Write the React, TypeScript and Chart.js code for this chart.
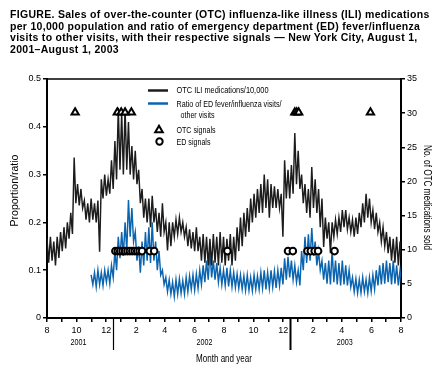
import React, { useEffect, useRef } from 'react';
import { Chart, registerables } from 'chart.js';

Chart.register(...registerables);

// x values are days since August 1, 2001
const monthStartDays = [0, 31, 61, 92, 122, 153, 184, 212, 243, 273, 304, 334, 365, 396, 426, 457, 487, 518, 549, 577, 608, 638, 669, 699, 730];
const monthTickLabels = ['8', '', '10', '', '12', '', '2', '', '4', '', '6', '', '8', '', '10', '', '12', '', '2', '', '4', '', '6', '', '8'];
const yearLabels = ['2001', '2002', '2003'];
const yearLabelDays = [65, 325, 614];
const yearBreakDays = [136, 502];

// OTC ILI medications/10,000 — weekly high and low of the daily series (right axis)
const otcHigh = [
  11.6, 11.9, 11.2, 11.9, 12.6, 13.3, 14.0, 15.4, 23.5, 19.6,
  18.9, 17.2, 16.8, 17.5, 16.8, 17.2, 20.3, 21.0, 20.3, 23.1,
  25.9, 30.8, 30.1, 30.8, 28.7, 25.2, 24.5, 21.7, 18.9, 17.5,
  17.5, 17.9, 16.1, 15.4, 16.8, 14.0, 14.0, 14.0, 14.4, 14.7,
  14.0, 13.3, 13.0, 12.6, 13.3, 11.9, 12.3, 11.9, 11.6, 12.3,
  11.9, 12.6, 11.9, 11.6, 12.3, 11.9, 13.3, 14.7, 15.4, 16.1,
  17.5, 18.2, 18.9, 19.6, 21.0, 20.3, 19.6, 19.3, 18.9, 18.2,
  23.1, 21.7, 22.4, 27.1, 24.5, 21.0, 19.6, 18.9, 22.1, 20.3,
  18.9, 17.5, 14.7, 14.0, 14.0, 14.4, 14.7, 15.8, 15.8, 14.7,
  14.4, 14.7, 15.4, 16.8, 18.2, 17.5, 15.8, 15.4, 14.0, 13.3,
  12.6, 11.9, 11.6, 11.9, 11.2,
];
const otcLow = [
  8.1, 8.4, 7.7, 8.8, 9.8, 10.2, 11.6, 12.3, 16.8, 16.5,
  16.1, 14.4, 14.0, 14.4, 14.0, 9.7, 17.5, 17.9, 18.2, 18.9,
  20.3, 21.7, 21.0, 21.7, 21.0, 20.3, 19.6, 16.8, 14.7, 14.0,
  13.3, 14.0, 12.6, 11.9, 12.6, 9.9, 10.5, 11.9, 12.3, 12.6,
  11.9, 10.5, 10.2, 9.8, 9.8, 8.4, 8.1, 7.7, 7.7, 8.1,
  7.7, 8.1, 7.7, 8.4, 7.7, 8.4, 9.8, 10.5, 11.9, 12.6,
  14.0, 14.7, 15.4, 15.4, 16.1, 14.7, 16.1, 16.1, 16.1, 11.9,
  17.5, 17.5, 18.2, 19.6, 18.9, 16.8, 15.4, 14.7, 16.1, 15.4,
  13.3, 10.4, 11.6, 9.5, 11.9, 12.3, 12.6, 13.3, 13.0, 12.6,
  11.9, 12.3, 13.3, 14.0, 14.7, 14.0, 13.0, 12.6, 11.2, 10.5,
  9.5, 8.4, 8.1, 7.7, 8.4,
];

// Ratio of ED fever/influenza visits to other visits — weekly high and low (left axis), from week 13
const edStartWeek = 13;
const edHigh = [
  0.09, 0.095, 0.1, 0.095, 0.1, 0.1, 0.11, 0.14, 0.17, 0.18,
  0.2, 0.247, 0.23, 0.18, 0.15, 0.16, 0.18, 0.19, 0.2, 0.16,
  0.14, 0.1, 0.085, 0.08, 0.075, 0.08, 0.082, 0.078, 0.085, 0.088,
  0.09, 0.092, 0.1, 0.11, 0.12, 0.14, 0.12, 0.115, 0.105, 0.1,
  0.105, 0.1, 0.095, 0.092, 0.09, 0.088, 0.09, 0.085, 0.09, 0.088,
  0.095, 0.1, 0.095, 0.1, 0.098, 0.1, 0.105, 0.125, 0.128, 0.12,
  0.11, 0.1, 0.14, 0.17, 0.175, 0.188, 0.16, 0.14, 0.12, 0.115,
  0.12, 0.142, 0.12, 0.115, 0.12, 0.11, 0.1, 0.085, 0.082, 0.08,
  0.085, 0.08, 0.085, 0.09, 0.1, 0.11, 0.115, 0.12, 0.115, 0.12,
  0.11, 0.1,
];
const edLow = [
  0.07, 0.065, 0.07, 0.068, 0.075, 0.072, 0.085, 0.1, 0.125, 0.13,
  0.14, 0.17, 0.16, 0.12, 0.095, 0.11, 0.12, 0.115, 0.12, 0.1,
  0.09, 0.07, 0.055, 0.05, 0.045, 0.05, 0.052, 0.05, 0.055, 0.06,
  0.058, 0.062, 0.07, 0.075, 0.08, 0.085, 0.08, 0.075, 0.07, 0.068,
  0.066, 0.065, 0.064, 0.062, 0.06, 0.058, 0.058, 0.057, 0.06, 0.06,
  0.062, 0.06, 0.062, 0.065, 0.063, 0.068, 0.07, 0.08, 0.085, 0.08,
  0.075, 0.068, 0.1, 0.115, 0.12, 0.13, 0.11, 0.1, 0.08, 0.072,
  0.07, 0.075, 0.07, 0.068, 0.07, 0.068, 0.065, 0.055, 0.052, 0.053,
  0.055, 0.052, 0.056, 0.06, 0.068, 0.07, 0.072, 0.075, 0.07, 0.072,
  0.068, 0.07,
];

const otcSignalDays = [58, 145, 153, 161, 174, 511, 515, 519, 667];
const edSignalDays = [141, 146, 151, 156, 161, 166, 171, 176, 181, 186, 191, 196, 212, 221, 372, 497, 507, 537, 544, 552, 559, 593];
const otcSignalLevel = 0.43;
const edSignalLevel = 0.14;

const legendLabels = ['OTC ILI medications/10,000', 'Ratio of ED fever/influenza visits/', 'other visits', 'OTC signals', 'ED signals'];

const BLACK = '#1c1c1c';
const BLUE = '#0b64b0';
const FONT = "'Liberation Sans', Arial, sans-serif";

function weekly(high: number[], low: number[], startWeek: number) {
  const pts: { x: number; y: number }[] = [];
  for (let i = 0; i < high.length; i++) {
    const d = (startWeek + i) * 7;
    pts.push({ x: d, y: high[i] });
    pts.push({ x: d + 3.5, y: low[i] });
  }
  return pts;
}

function text(ctx: CanvasRenderingContext2D, s: string, x: number, y: number, size: number, maxW: number, align: CanvasTextAlign = 'left') {
  ctx.font = `${size}px ${FONT}`;
  ctx.textAlign = align;
  ctx.textBaseline = 'middle';
  ctx.fillStyle = '#000';
  ctx.fillText(s, x, y, maxW);
}

const decorPlugin = {
  id: 'decor',
  afterDraw(chart: any) {
    const ctx: CanvasRenderingContext2D = chart.ctx;
    const a = chart.chartArea;
    const xs = chart.scales.x;
    ctx.save();
    // top frame line
    ctx.strokeStyle = '#000';
    ctx.lineWidth = 1.5;
    ctx.beginPath();
    ctx.moveTo(a.left - 1, a.top);
    ctx.lineTo(a.right + 1, a.top);
    ctx.stroke();
    // year separators
    yearBreakDays.forEach((d, i) => {
      const px = Math.round(xs.getPixelForValue(d)) + 0.5;
      ctx.lineWidth = i === 0 ? 1.2 : 2;
      ctx.beginPath();
      ctx.moveTo(px, a.bottom);
      ctx.lineTo(px, a.bottom + 32);
      ctx.stroke();
    });
    // year labels
    yearLabels.forEach((s, i) => {
      text(ctx, s, xs.getPixelForValue(yearLabelDays[i]), a.bottom + 25, 8.5, 16, 'center');
    });
    text(ctx, 'Month and year', (a.left + a.right) / 2, a.bottom + 41, 10, 56, 'center');
    // axis titles
    ctx.save();
    ctx.translate(15, 190.5);
    ctx.rotate(-Math.PI / 2);
    text(ctx, 'Proportion/ratio', 0, 0, 10.5, 75, 'center');
    ctx.restore();
    ctx.save();
    ctx.translate(427, 197.5);
    ctx.rotate(Math.PI / 2);
    text(ctx, 'No. of OTC medications sold', 0, 0, 10.5, 105, 'center');
    ctx.restore();
    // legend
    ctx.lineWidth = 2.5;
    ctx.strokeStyle = BLACK;
    ctx.beginPath();
    ctx.moveTo(148, 90.5);
    ctx.lineTo(168, 90.5);
    ctx.stroke();
    ctx.strokeStyle = BLUE;
    ctx.beginPath();
    ctx.moveTo(148, 103.5);
    ctx.lineTo(168, 103.5);
    ctx.stroke();
    text(ctx, legendLabels[0], 176.5, 90.5, 9.5, 92);
    text(ctx, legendLabels[1], 176.5, 104.5, 9.5, 105);
    text(ctx, legendLabels[2], 180.5, 115.5, 9.5, 34);
    text(ctx, legendLabels[3], 176.5, 130, 9.5, 39);
    text(ctx, legendLabels[4], 176.5, 142.5, 9.5, 34);
    ctx.strokeStyle = '#000';
    ctx.fillStyle = '#fff';
    ctx.lineWidth = 2;
    ctx.beginPath();
    ctx.moveTo(159, 125.8);
    ctx.lineTo(162.8, 132.3);
    ctx.lineTo(155.2, 132.3);
    ctx.closePath();
    ctx.fill();
    ctx.stroke();
    ctx.beginPath();
    ctx.arc(159.5, 141.5, 3.2, 0, Math.PI * 2);
    ctx.fill();
    ctx.stroke();
    ctx.restore();
  },
};

export default function App() {
  const ref = useRef<HTMLCanvasElement>(null);
  useEffect(() => {
    if (!ref.current) return;
    const tickFont = { family: "'Liberation Sans Narrow', 'Liberation Sans', Arial, sans-serif", size: 9 };
    const chart = new Chart(ref.current, {
      type: 'line',
      data: {
        datasets: [
          {
            label: 'OTC signals',
            type: 'scatter',
            data: otcSignalDays.map((d) => ({ x: d, y: otcSignalLevel })),
            yAxisID: 'y',
            pointStyle: 'triangle',
            pointRadius: 4.2,
            pointBorderWidth: 2,
            pointBackgroundColor: '#fff',
            pointBorderColor: '#000',
            order: 0,
          } as any,
          {
            label: 'ED signals',
            type: 'scatter',
            data: edSignalDays.map((d) => ({ x: d, y: edSignalLevel })),
            yAxisID: 'y',
            pointStyle: 'circle',
            pointRadius: 3.3,
            pointBorderWidth: 2,
            pointBackgroundColor: '#fff',
            pointBorderColor: '#000',
            order: 0,
          } as any,
          {
            label: legendLabels[0],
            data: weekly(otcHigh, otcLow, 0),
            yAxisID: 'y1',
            borderColor: BLACK,
            borderWidth: 1.45,
            pointRadius: 0,
            tension: 0,
            order: 1,
          },
          {
            label: legendLabels[1] + legendLabels[2],
            data: weekly(edHigh, edLow, edStartWeek),
            yAxisID: 'y',
            borderColor: BLUE,
            borderWidth: 1.45,
            pointRadius: 0,
            tension: 0,
            order: 2,
          },
        ],
      },
      options: {
        animation: false,
        responsive: false,
        events: [],
        layout: { padding: { top: 79, left: 0, right: 0, bottom: 0 } },
        plugins: { legend: { display: false }, tooltip: { enabled: false } },
        scales: {
          x: {
            type: 'linear',
            min: 0,
            max: 730,
            afterBuildTicks: (s: any) => {
              s.ticks = monthStartDays.map((v) => ({ value: v }));
            },
            afterFit: (s: any) => {
              s.height = 61;
            },
            ticks: {
              autoSkip: false,
              maxRotation: 0,
              padding: 3,
              color: '#000',
              font: tickFont,
              callback: (_v: any, i: number) => monthTickLabels[i],
            },
            grid: { drawOnChartArea: false, tickLength: 4, color: '#000', lineWidth: 1.5 },
            border: { color: '#000', width: 2 },
          },
          y: {
            position: 'left',
            min: 0,
            max: 0.5,
            afterFit: (s: any) => {
              s.width = 47;
            },
            ticks: { stepSize: 0.1, padding: 2, color: '#000', font: tickFont },
            grid: { drawOnChartArea: false, tickLength: 4, color: '#000', lineWidth: 1.5 },
            border: { color: '#000', width: 2 },
          },
          y1: {
            position: 'right',
            min: 0,
            max: 35,
            afterFit: (s: any) => {
              s.width = 45;
            },
            ticks: { stepSize: 5, padding: 2, color: '#000', font: tickFont },
            grid: { drawOnChartArea: false, tickLength: 4, color: '#000', lineWidth: 1.5 },
            border: { color: '#000', width: 2 },
          },
        },
      },
      plugins: [decorPlugin],
    } as any);
    return () => chart.destroy();
  }, []);

  return (
    <div style={{ position: 'relative', width: 446, height: 379, margin: -8 }}>
      <div
        style={{
          position: 'absolute',
          left: 10,
          top: 9,
          font: `bold 10.5px ${FONT}`,
          letterSpacing: '0.3px',
          lineHeight: '11.7px',
          whiteSpace: 'nowrap',
          color: '#000',
          zIndex: 1,
        }}
      >
        FIGURE. Sales of over-the-counter (OTC) influenza-like illness (ILI) medications
        <br />
        per 10,000 population and ratio of emergency department (ED) fever/influenza
        <br />
        visits to other visits, with their respective signals — New York City, August 1,
        <br />
        2001–August 1, 2003
      </div>
      <canvas ref={ref} width={446} height={379} style={{ position: 'absolute', left: 0, top: 0 }} />
    </div>
  );
}
